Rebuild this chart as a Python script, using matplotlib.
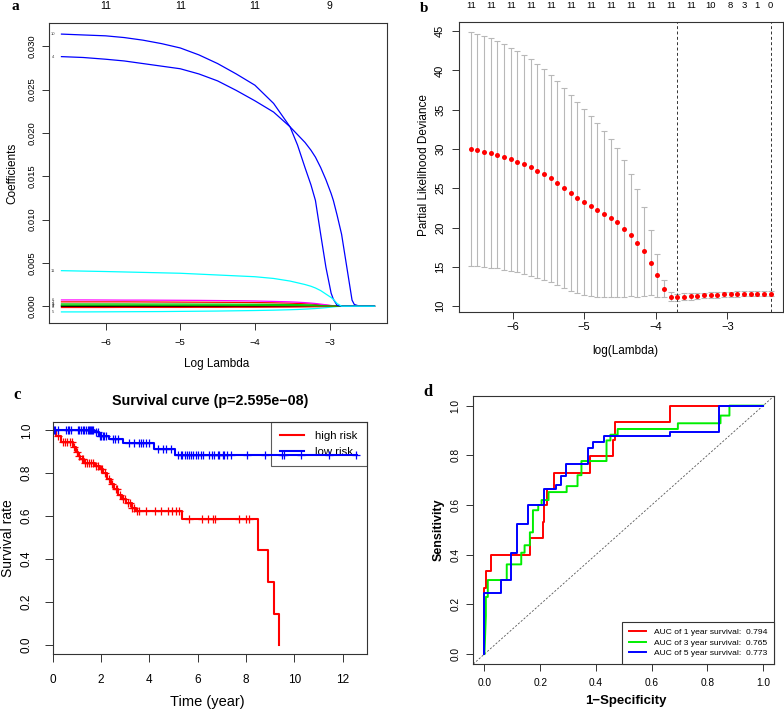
import numpy as np
import matplotlib
matplotlib.use('Agg')
import matplotlib.pyplot as plt
import matplotlib.transforms as mtransforms

plt.rcParams['font.family'] = ['Liberation Sans', 'DejaVu Sans']

# ---- panel a: lasso coefficient paths
lam_a = [-6.59, -6.3, -6.0, -5.75, -5.5, -5.25, -5.0, -4.75, -4.5, -4.25, -4.0,
         -3.75, -3.53, -3.43, -3.33, -3.25, -3.19, -3.12, -3.05, -2.98, -2.95, -2.90,
         -2.84, -2.77, -2.70, -2.67, -2.60, -2.50, -2.40]
coef_10 = [0.0314, 0.0313, 0.0312, 0.0310, 0.0307, 0.0303, 0.0298, 0.0290, 0.0280, 0.0268, 0.0255,
           0.0234, 0.0207, 0.0186, 0.0160, 0.0140, 0.0122, 0.0083, 0.0045, 0.0015, 0.0008, 0.0001,
           0, 0, 0, 0, 0, 0, 0]
coef_4 = [0.0288, 0.0287, 0.0285, 0.0283, 0.0280, 0.0277, 0.0274, 0.0268, 0.0260, 0.0249, 0.0237,
          0.0224, 0.0207, 0.0198, 0.0189, 0.0180, 0.0172, 0.0160, 0.0146, 0.0130, 0.0122, 0.0105,
          0.0083, 0.0045, 0.0007, 0.0002, 0, 0, 0]
coef_11 = [0.0041, 0.00405, 0.0040, 0.00395, 0.0039, 0.00385, 0.0038, 0.0037, 0.0036, 0.0035, 0.0034,
           0.0032, 0.0029, 0.0027, 0.0025, 0.0023, 0.0021, 0.0018, 0.0014, 0.0010, 0.0008, 0.0003,
           0, 0, 0, 0, 0, 0, 0]
coef_6 = [0.00072, 0.00072, 0.00071, 0.0007, 0.0007, 0.00069, 0.00068, 0.00067, 0.00065, 0.00063, 0.0006,
          0.00055, 0.0005, 0.00046, 0.00041, 0.00036, 0.00031, 0.00024, 0.00016, 0.00008, 0.00005, 0.00001,
          0, 0, 0, 0, 0, 0, 0]
coef_2 = [0.0005, 0.0005, 0.0005, 0.0005, 0.00049, 0.00048, 0.00047, 0.00046, 0.00045, 0.00044, 0.00042,
          0.00039, 0.00035, 0.00032, 0.00028, 0.00025, 0.00021, 0.00016, 0.00011, 0.00006, 0.00004, 0.00001,
          0, 0, 0, 0, 0, 0, 0]
coef_3 = [0.00026, 0.00026, 0.00026, 0.00026, 0.00025, 0.00025, 0.00025, 0.00024, 0.00024, 0.00023, 0.00022,
          0.00021, 0.00019, 0.00018, 0.00016, 0.00014, 0.00012, 0.0001, 0.00007, 0.00005, 0.00004, 0.00003,
          0.00002, 0.00001, 0, 0, 0, 0, 0]
coef_9 = [0.00012, 0.00012, 0.00012, 0.00012, 0.00012, 0.00011, 0.00011, 0.00011, 0.00011, 0.0001, 0.0001,
          0.00009, 0.00008, 0.00008, 0.00007, 0.00006, 0.00005, 0.00004, 0.00003, 0.00002, 0.00001, 0.00001,
          0, 0, 0, 0, 0, 0, 0]
coef_1 = [0.00004, 0.00004, 0.00004, 0.00004, 0.00004, 0.00004, 0.00004, 0.00003, 0.00003, 0.00003, 0.00003,
          0.00003, 0.00002, 0.00002, 0.00002, 0.00002, 0.00001, 0.00001, 0.00001, 0, 0, 0,
          0, 0, 0, 0, 0, 0, 0]
coef_7 = [-0.00003, -0.00003, -0.00003, -0.00003, -0.00003, -0.00003, -0.00003, -0.00003, -0.00003, -0.00002, -0.00002,
          -0.00002, -0.00002, -0.00002, -0.00001, -0.00001, -0.00001, -0.00001, 0, 0, 0, 0,
          0, 0, 0, 0, 0, 0, 0]
coef_8 = [-0.00015, -0.00015, -0.00015, -0.00014, -0.00014, -0.00014, -0.00014, -0.00013, -0.00013, -0.00012, -0.00012,
          -0.00011, -0.0001, -0.00009, -0.00008, -0.00007, -0.00006, -0.00005, -0.00003, -0.00002, -0.00001, 0,
          0, 0, 0, 0, 0, 0, 0]
coef_5 = [-0.00066, -0.00066, -0.00065, -0.00064, -0.00063, -0.00062, -0.0006, -0.00058, -0.00056, -0.00053, -0.0005,
          -0.00046, -0.00041, -0.00038, -0.00034, -0.0003, -0.00027, -0.00022, -0.00017, -0.00011, -0.00008, -0.00004,
          -0.00001, 0, 0, 0, 0, 0, 0]
paths = {1: coef_1, 2: coef_2, 3: coef_3, 4: coef_4, 5: coef_5, 6: coef_6,
         7: coef_7, 8: coef_8, 9: coef_9, 10: coef_10, 11: coef_11}
r_cols = ['black', 'red', '#00CD00', 'blue', 'cyan', 'magenta']
top_a_pos = [-6, -5, -4, -3]
top_a_lab = ['11', '11', '11', '9']

# ---- panel b: cross-validation curve
lam_b = [-6.585, -6.492, -6.399, -6.306, -6.213, -6.120, -6.026, -5.933, -5.840, -5.747,
         -5.654, -5.561, -5.468, -5.375, -5.282, -5.189, -5.095, -5.002, -4.909, -4.816,
         -4.723, -4.630, -4.537, -4.444, -4.351, -4.258, -4.164, -4.071, -3.978, -3.885,
         -3.792, -3.699, -3.606, -3.513, -3.420, -3.327, -3.233, -3.140, -3.047, -2.954,
         -2.861, -2.768, -2.675, -2.582, -2.489, -2.396]
cvm = [30.02, 29.9, 29.68, 29.47, 29.26, 29.0, 28.7, 28.37, 28.03, 27.7,
       27.22, 26.76, 26.25, 25.7, 25.06, 24.42, 23.79, 23.23, 22.73, 22.26,
       21.75, 21.24, 20.65, 19.88, 19.08, 18.06, 16.96, 15.56, 13.94, 12.25,
       11.23, 11.14, 11.2, 11.25, 11.32, 11.37, 11.41, 11.45, 11.49, 11.52,
       11.55, 11.57, 11.59, 11.6, 11.6, 11.6]
cvsd = [14.85, 14.76, 14.72, 14.6, 14.44, 14.35, 14.2, 14.08, 13.97, 13.8,
        13.62, 13.4, 13.19, 12.94, 12.73, 12.43, 12.17, 11.84, 11.41, 11.03,
        10.56, 10.06, 9.42, 8.66, 7.76, 6.83, 5.64, 4.15, 2.72, 1.1,
        0.55, 0.45, 0.42, 0.40, 0.38, 0.37, 0.36, 0.35, 0.35, 0.34,
        0.34, 0.33, 0.33, 0.33, 0.33, 0.33]
top_b_idx = [0, 3, 6, 9, 12, 15, 18, 21, 24, 27, 30, 33, 36, 39, 41, 43, 45]
top_b_lab = ['11'] * 12 + ['10', '8', '3', '1', '0']
lam_min_idx = 31
lam_1se_idx = 45

# ---- panel c: Kaplan-Meier curves
high_t = [0, 0.12, 0.35, 0.85, 0.95, 1.05, 1.15, 1.3, 1.75, 1.95, 2.1, 2.25, 2.4, 2.55, 2.7,
          2.85, 3.05, 3.3, 3.45, 5.35, 8.52, 8.9, 9.15, 9.38]
high_s = [1.0, 0.975, 0.945, 0.92, 0.9, 0.88, 0.865, 0.85, 0.835, 0.82, 0.8, 0.775, 0.75, 0.725, 0.70,
          0.68, 0.66, 0.64, 0.622, 0.588, 0.441, 0.294, 0.147, 0.0]
high_cens = [0.2, 0.42, 0.5, 0.6, 0.72, 0.8, 0.9, 1.0, 1.1, 1.2, 1.25, 1.35, 1.42, 1.5, 1.58, 1.65,
             1.8, 1.88, 2.0, 2.05, 2.18, 2.32, 2.45, 2.6, 2.65, 2.78, 2.9, 3.0, 3.12, 3.2, 3.3, 3.38,
             3.5, 3.59, 3.86, 4.25, 4.5, 4.79, 4.94, 5.1, 5.24, 5.66, 6.2, 6.41, 6.62, 6.73, 7.7, 8.0, 8.14]
low_t = [0, 1.72, 1.93, 2.35, 2.9, 4.2, 5.06, 12.58]
low_s = [1.0, 0.99, 0.975, 0.96, 0.94, 0.915, 0.886, 0.886]
low_cens = [0.03, 0.07, 0.11, 0.21, 0.55, 0.62, 0.69, 0.76, 1.03, 1.1, 1.17, 1.24, 1.31, 1.38, 1.45,
            1.49, 1.55, 1.59, 1.64, 1.68, 1.79, 1.88, 1.97, 2.02, 2.07, 2.14, 2.21, 2.48, 2.56, 2.69,
            3.17, 3.38, 3.59, 3.66, 3.72, 3.86, 4.0, 4.34, 4.55, 4.69, 4.9, 5.17, 5.3, 5.35, 5.48,
            5.54, 5.65, 5.72, 5.82, 5.93, 6.02, 6.14, 6.23, 6.46, 6.58, 6.69, 6.84, 6.9, 7.03, 7.1,
            7.2, 7.38, 8.03, 8.79, 9.49, 9.59, 10.3, 11.42, 12.55]

# ---- panel d: time dependent ROC
roc1_fpr = [0, 0, 0.005, 0.005, 0.024, 0.024, 0.163, 0.163, 0.21, 0.21, 0.215, 0.215, 0.224, 0.224,
            0.25, 0.25, 0.377, 0.377, 0.462, 0.462, 0.468, 0.468, 0.667, 0.667, 1.0]
roc1_tpr = [0, 0.265, 0.265, 0.334, 0.334, 0.40, 0.40, 0.468, 0.468, 0.532, 0.532, 0.60, 0.60, 0.666,
            0.666, 0.73, 0.73, 0.797, 0.797, 0.862, 0.862, 0.933, 0.933, 1.0, 1.0]
roc3_fpr = [0, 0.005, 0.005, 0.012, 0.012, 0.08, 0.08, 0.132, 0.132, 0.144, 0.144, 0.163, 0.163,
            0.174, 0.174, 0.193, 0.193, 0.205, 0.205, 0.23, 0.23, 0.295, 0.295, 0.334, 0.334, 0.348,
            0.348, 0.438, 0.438, 0.452, 0.452, 0.478, 0.478, 0.694, 0.694, 0.847, 0.847, 0.879, 0.879, 1.0]
roc3_tpr = [0, 0.154, 0.23, 0.23, 0.298, 0.298, 0.361, 0.361, 0.408, 0.408, 0.438, 0.438, 0.49,
            0.49, 0.579, 0.579, 0.60, 0.60, 0.62, 0.62, 0.652, 0.652, 0.676, 0.676, 0.72, 0.72,
            0.777, 0.777, 0.86, 0.86, 0.883, 0.883, 0.906, 0.906, 0.929, 0.929, 0.96, 0.96, 1.0, 1.0]
roc5_fpr = [0, 0, 0.059, 0.059, 0.096, 0.096, 0.118, 0.118, 0.157, 0.157, 0.215, 0.215, 0.255, 0.255,
            0.275, 0.275, 0.293, 0.293, 0.372, 0.372, 0.39, 0.39, 0.43, 0.43, 0.665, 0.665, 0.843, 0.843, 1.0]
roc5_tpr = [0, 0.247, 0.247, 0.30, 0.30, 0.405, 0.405, 0.525, 0.525, 0.60, 0.60, 0.663, 0.663, 0.68,
            0.68, 0.716, 0.716, 0.766, 0.766, 0.83, 0.83, 0.853, 0.853, 0.876, 0.876, 0.893, 0.893, 1.0, 1.0]
roc_labels = ['AUC of 1 year survival:  0.794', 'AUC of 3 year survival:  0.765',
              'AUC of 5 year survival:  0.773']

W, H = 784, 711
fig = plt.figure(figsize=(W / 100, H / 100), dpi=100)


def box(l, t, r, b):
    return [l / W, 1 - b / H, (r - l) / W, (b - t) / H]


def ftext(x, y, s, **kw):
    fig.text(x / W, 1 - y / H, s, ha='center', va='center', **kw)


def style(ax, size, tlen, xpad, ypad):
    for sp in ax.spines.values():
        sp.set_linewidth(0.8)
        sp.set_color('#333333')
    ax.tick_params(direction='out', length=tlen, width=0.7, labelsize=size, color='#333333')
    ax.tick_params(axis='x', pad=xpad)
    ax.tick_params(axis='y', pad=ypad)
    plt.setp(ax.get_yticklabels(), rotation=90, va='center')


letter_font = dict(family='Liberation Serif', fontweight='bold')

# ================= a
ax1 = fig.add_axes(box(49, 23, 387, 323))
for k, v in paths.items():
    ax1.plot(lam_a, v, color=r_cols[(k - 1) % 6], lw=0.9)
    ax1.text(-6.70, v[0], str(k), fontsize=3.0, ha='center', va='center', color='#444444')
ax1.set_xlim(-6.757, -2.232)
ax1.set_ylim(-0.00194, 0.03268)
ax1.set_xticks([-6, -5, -4, -3])
ax1.set_yticks([0, 0.005, 0.010, 0.015, 0.020, 0.025, 0.030])
ax1.set_yticklabels(['0.000', '0.005', '0.010', '0.015', '0.020', '0.025', '0.030'])
style(ax1, 6.8, 5, 6.0, 4.0)
tr = mtransforms.blended_transform_factory(ax1.transData, fig.transFigure)
for p, s in zip(top_a_pos, top_a_lab):
    ax1.text(p, 1 - 6 / H, s, transform=tr, ha='center', va='center', fontsize=7.5)
ftext(12, 173, 'Coefficients', fontsize=8.5, rotation=90)
ftext(217, 364, 'Log Lambda', fontsize=8.5)
ftext(15, 7, 'a', fontsize=11, **letter_font)

# ================= b
ax2 = fig.add_axes(box(458.7, 21.7, 782.7, 311.7))
ax2.errorbar(lam_b, cvm, yerr=cvsd, fmt='none', ecolor='#b8b8b8', elinewidth=0.8,
             capsize=2.2, capthick=0.8)
ax2.plot(lam_b, cvm, 'o', color='red', ms=3.6, mec='none', zorder=3)
ax2.axvline(lam_b[lam_min_idx], color='#333333', lw=0.7, ls=(0, (3, 2.5)))
ax2.axvline(lam_b[lam_1se_idx], color='#333333', lw=0.7, ls=(0, (3, 2.5)))
ax2.set_xlim(-6.753, -2.228)
ax2.set_ylim(9.3, 46.2)
ax2.set_xticks([-6, -5, -4, -3])
ax2.set_yticks([10, 15, 20, 25, 30, 35, 40, 45])
style(ax2, 8, 5, 2.5, 4.8)
tr = mtransforms.blended_transform_factory(ax2.transData, fig.transFigure)
for i, s in zip(top_b_idx, top_b_lab):
    ax2.text(lam_b[i], 1 - 6 / H, s, transform=tr, ha='center', va='center', fontsize=6.8)
ftext(424, 165, 'Partial Likelihood Deviance', fontsize=8.5, rotation=90)
ftext(625, 351, 'log(Lambda)', fontsize=8.5)
ftext(424, 8, 'b', fontsize=11, **letter_font)

# ================= c
ax3 = fig.add_axes(box(52.7, 421.7, 366.7, 653.7))
ax3.step(high_t, high_s, where='post', color='red', lw=1.5, label='high risk')
ax3.step(low_t, low_s, where='post', color='blue', lw=1.5, label='low risk')
hc = np.array(high_cens)
ax3.plot(hc, np.array(high_s)[np.searchsorted(high_t, hc, side='right') - 1], '+',
         color='red', ms=6, mew=0.9)
lc = np.array(low_cens)
ax3.plot(lc, np.array(low_s)[np.searchsorted(low_t, lc, side='right') - 1], '+',
         color='blue', ms=6, mew=0.9)
ax3.set_xlim(0, 13.0)
ax3.set_ylim(-0.04, 1.04)
ax3.set_xticks([0, 2, 4, 6, 8, 10, 12])
ax3.set_yticks([0, 0.2, 0.4, 0.6, 0.8, 1.0])
ax3.set_yticklabels(['0.0', '0.2', '0.4', '0.6', '0.8', '1.0'])
style(ax3, 8.5, 6, 8.4, 8.4)
leg = ax3.legend(loc='upper right', fontsize=8.2, borderaxespad=0, handlelength=2.1,
                 handletextpad=0.9, labelspacing=0.45, borderpad=0.85, fancybox=False,
                 edgecolor='#333333', facecolor='none')
leg.get_frame().set_linewidth(0.8)
leg.set_zorder(1)
ftext(210, 401, 'Survival curve (p=2.595e\u221208)', fontsize=10.3, fontweight='bold')
ftext(8, 538, 'Survival rate', fontsize=10, rotation=90)
ftext(207, 702, 'Time (year)', fontsize=10.5)
ftext(17, 395, 'c', fontsize=12, **letter_font)

# ================= d
ax4 = fig.add_axes(box(473.3, 395.7, 774.3, 664))
ax4.axline((0, 0), (1, 1), color='#555555', lw=0.6, ls=(0, (2.5, 2)))
ax4.plot(roc1_fpr, roc1_tpr, color='red', lw=1.4, label=roc_labels[0])
ax4.plot(roc3_fpr, roc3_tpr, color='#00EE00', lw=1.4, label=roc_labels[1])
ax4.plot(roc5_fpr, roc5_tpr, color='blue', lw=1.4, label=roc_labels[2])
ax4.set_xlim(-0.04, 1.04)
ax4.set_ylim(-0.04, 1.04)
ax4.set_xticks([0, 0.2, 0.4, 0.6, 0.8, 1.0])
ax4.set_yticks([0, 0.2, 0.4, 0.6, 0.8, 1.0])
ax4.set_xticklabels(['0.0', '0.2', '0.4', '0.6', '0.8', '1.0'])
ax4.set_yticklabels(['0.0', '0.2', '0.4', '0.6', '0.8', '1.0'])
style(ax4, 7.3, 5, 4.8, 4.3)
leg = ax4.legend(loc='lower right', fontsize=6.1, borderaxespad=0, handlelength=2.1,
                 handletextpad=0.9, labelspacing=0.3, borderpad=0.8, fancybox=False,
                 edgecolor='#333333', framealpha=1)
leg.get_frame().set_linewidth(0.8)
ftext(439, 530, 'Sensitivity', fontsize=9, fontweight='bold', rotation=90)
ftext(626, 701, '1\u2212Specificity', fontsize=9.5, fontweight='bold')
ftext(428, 392, 'd', fontsize=12, **letter_font)

fig.savefig('out.png', dpi=100)
